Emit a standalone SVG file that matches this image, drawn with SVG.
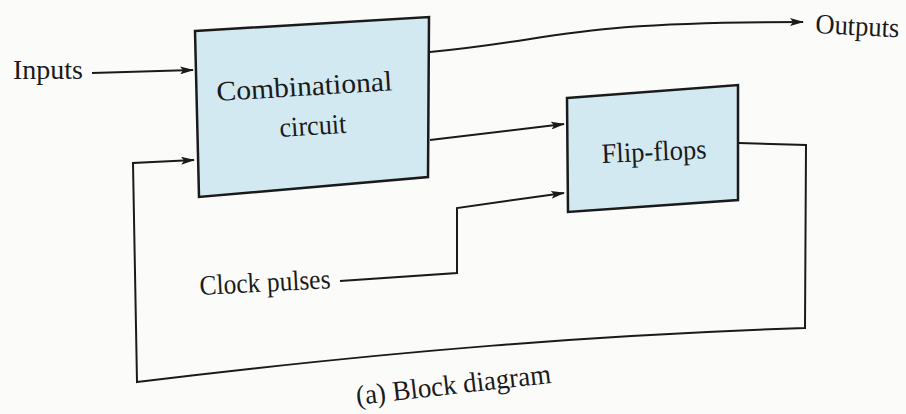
<svg xmlns="http://www.w3.org/2000/svg" width="906" height="414" viewBox="0 0 906 414">
<style>
.box{fill:#d3e9f1;stroke:#1a1a1a;stroke-width:2.5}
.ln{fill:none;stroke:#1a1a1a;stroke-width:2}
.t{font-family:'Liberation Serif','Times New Roman',serif;fill:#1a1a1a;font-size:28px}
</style>
<defs>
<marker id="ah" viewBox="0 0 14 8" refX="13" refY="4" markerWidth="14" markerHeight="8" markerUnits="userSpaceOnUse" orient="auto">
<path d="M0,0 L14,4 L0,8 L3,4 Z" fill="#1a1a1a"/>
</marker>
</defs>
<rect width="906" height="414" fill="#fbfbfa"/>
<g id="connectors">
<path class="ln" d="M92,73 L193,70" marker-end="url(#ah)"/>
<path class="ln" d="M430,52 C560,40 560,22 803,22" marker-end="url(#ah)"/>
<path class="ln" d="M430,140 L564,124" marker-end="url(#ah)"/>
<path class="ln" d="M340,281 L457,273 L457,208 L564,193" marker-end="url(#ah)"/>
<path class="ln" d="M739,143 L806,145 L805,328 C600,335 400,350 137,382 L133,163 L194,160" marker-end="url(#ah)"/>
</g>
<g id="combinational">
<polygon class="box" points="195,31 429,17 428,177 199,197"/>
<text class="t" x="217" y="101" textLength="176" lengthAdjust="spacingAndGlyphs" transform="rotate(-3.5 217 101)">Combinational</text>
<text class="t" x="280" y="137" textLength="67" lengthAdjust="spacingAndGlyphs" transform="rotate(-3.5 280 137)">circuit</text>
</g>
<g id="flipflops">
<polygon class="box" points="567,98 738,85 738,200 568,212"/>
<text class="t" x="602" y="163" textLength="105" lengthAdjust="spacingAndGlyphs" transform="rotate(-2.5 602 163)">Flip-flops</text>
</g>
<g id="inputs"><text class="t" x="13" y="79" textLength="70" lengthAdjust="spacingAndGlyphs">Inputs</text></g>
<g id="outputs"><text class="t" x="815" y="33" textLength="84" lengthAdjust="spacingAndGlyphs" transform="rotate(3 815 33)">Outputs</text></g>
<g id="clock"><text class="t" x="200" y="295" textLength="131" lengthAdjust="spacingAndGlyphs" transform="rotate(-3 200 295)">Clock pulses</text></g>
<text class="t" x="357" y="405" textLength="196" lengthAdjust="spacingAndGlyphs" transform="rotate(-6.5 357 405)">(a) Block diagram</text>
</svg>
